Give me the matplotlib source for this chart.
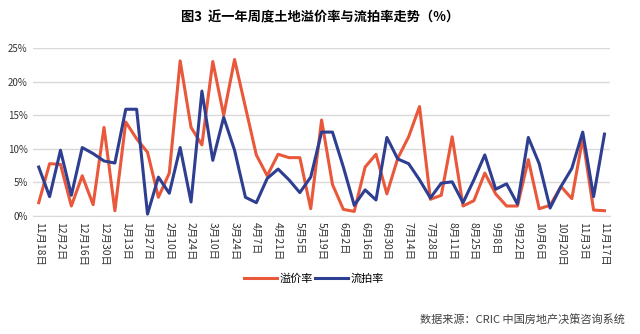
import matplotlib.pyplot as plt
import numpy as np

plt.rcParams['font.family'] = ['Noto Sans CJK SC', 'DejaVu Sans']

# weekly dates, labelled every other week
tick_labels = ['11月18日', '12月2日', '12月16日', '12月30日', '1月13日', '1月27日',
               '2月10日', '2月24日', '3月10日', '3月24日', '4月7日', '4月21日',
               '5月5日', '5月19日', '6月2日', '6月16日', '6月30日', '7月14日',
               '7月28日', '8月11日', '8月25日', '9月8日', '9月22日', '10月6日',
               '10月20日', '11月3日', '11月17日']

# 溢价率 (%)
premium = [2.0, 7.8, 7.7, 1.5, 6.0, 1.7, 13.2, 0.8, 14.0, 11.5,
           9.5, 2.8, 6.4, 23.1, 13.2, 10.6, 23.0, 15.0, 23.3, 16.2,
           9.1, 6.0, 9.2, 8.7, 8.7, 1.1, 14.3, 4.7, 1.0, 0.7,
           7.3, 9.2, 3.3, 8.6, 11.8, 16.3, 2.5, 3.1, 11.8, 1.5,
           2.3, 6.4, 3.3, 1.5, 1.5, 8.4, 1.1, 1.6, 4.4, 2.6,
           11.6, 0.9, 0.8]

# 流拍率 (%)
unsold = [7.3, 2.9, 9.8, 3.1, 10.2, 9.3, 8.2, 7.9, 15.9, 15.9,
          0.3, 5.8, 3.4, 10.2, 2.1, 18.6, 8.3, 14.7, 9.8, 2.8,
          2.0, 5.6, 7.0, 5.4, 3.5, 5.8, 12.5, 12.5, 7.3, 1.6,
          3.9, 2.4, 11.7, 8.5, 7.8, 5.4, 2.7, 4.9, 5.1, 2.0,
          5.4, 9.1, 4.0, 4.8, 1.8, 11.7, 7.8, 1.2, 4.4, 7.1,
          12.5, 2.9, 12.2]

x = np.arange(len(premium))

fig = plt.figure(figsize=(6.4, 3.34), dpi=100)
ax = fig.add_axes([0.052, 0.353, 0.901, 0.503])

ax.plot(x, premium, color='#E9583A', lw=2.2, label='溢价率')
ax.plot(x, unsold, color='#2E3E90', lw=2.2, label='流拍率')

ax.set_xlim(-0.5, len(x) - 0.5)
ax.set_ylim(0, 25)
ax.set_yticks(range(0, 26, 5))
ax.set_yticklabels([f'{v}%' for v in range(0, 26, 5)], fontsize=7, color='#333333')
ax.set_xticks(x[::2])
ax.set_xticklabels(tick_labels, rotation=-90, fontsize=7.5, color='#333333')
ax.tick_params(length=0, pad=4)
ax.grid(axis='y', color='#D9D9D9', lw=1)
ax.set_axisbelow(True)
for s in ['top', 'right', 'left']:
    ax.spines[s].set_visible(False)
ax.spines['bottom'].set_color('#D9D9D9')

fig.text(0.5, 0.948, '图3  近一年周度土地溢价率与流拍率走势（%）', ha='center', va='center',
         fontsize=9.5, fontweight='bold')
fig.legend(loc='center', bbox_to_anchor=(0.49, 0.167), ncol=2, frameon=False,
           fontsize=8, handlelength=3.0, handletextpad=0.2, columnspacing=0.2)
fig.text(0.977, 0.045, '数据来源：CRIC 中国房地产决策咨询系统', ha='right', va='center',
         fontsize=8, color='#404040')

fig.savefig('out.png', dpi=100)
